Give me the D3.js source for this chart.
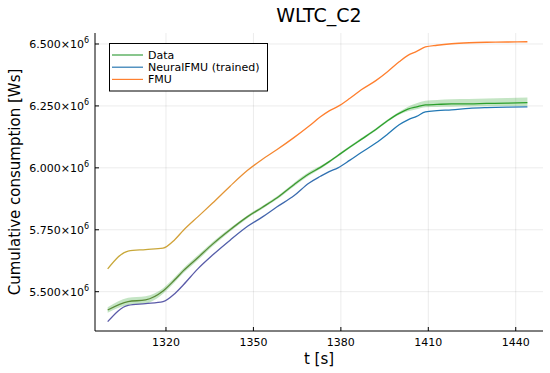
<!DOCTYPE html>
<html><head><meta charset="utf-8">
<script src="https://cdn.jsdelivr.net/npm/d3@7/dist/d3.min.js"></script>
<style>body{margin:0;background:#fff}svg{display:block;font-family:"DejaVu Sans",sans-serif}</style>
</head><body><svg id="c" width="550" height="373"></svg>
<script>
const title = "WLTC_C2";
const xLabel = "t [s]";
const yLabel = "Cumulative consumption [Ws]";
const seriesNames = ["Data", "NeuralFMU (trained)", "FMU"];
const xTicks = [1320, 1350, 1380, 1410, 1440];
const yTicks = [5.5e6, 5.75e6, 6.0e6, 6.25e6, 6.5e6];
const yTickLabels = ["5.500", "5.750", "6.000", "6.250", "6.500"];
const time = [1300,1307,1313,1319,1323,1326,1331,1336,1342,1348,1353,1358,1364,1369,1373,1376,1379,1383,1387,1392,1396,1400,1403,1406,1409,1413,1418,1424,1430,1437,1444];
// values in 1e6 Ws
const fmu = [5.592,5.664,5.670,5.676,5.710,5.748,5.803,5.858,5.926,5.990,6.034,6.073,6.123,6.168,6.206,6.230,6.248,6.280,6.315,6.352,6.388,6.428,6.454,6.470,6.488,6.495,6.501,6.505,6.507,6.508,6.509];
const data = [5.426,5.460,5.467,5.503,5.548,5.585,5.638,5.692,5.750,5.803,5.840,5.878,5.933,5.975,6.002,6.025,6.050,6.083,6.115,6.155,6.190,6.220,6.237,6.246,6.254,6.256,6.258,6.258,6.260,6.261,6.263];
const neural = [5.379,5.445,5.452,5.460,5.492,5.528,5.593,5.648,5.708,5.764,5.801,5.842,5.888,5.938,5.966,5.985,6.000,6.030,6.062,6.100,6.136,6.174,6.194,6.208,6.226,6.231,6.234,6.240,6.243,6.245,6.246];
const dataHigh = [5.437,5.476,5.482,5.514,5.558,5.595,5.648,5.701,5.757,5.809,5.846,5.884,5.940,5.983,6.008,6.030,6.055,6.088,6.120,6.160,6.195,6.226,6.247,6.261,6.271,6.274,6.277,6.278,6.280,6.282,6.284];
const dataLow  = [5.415,5.446,5.452,5.492,5.538,5.575,5.628,5.683,5.743,5.797,5.834,5.872,5.926,5.968,5.996,6.020,6.045,6.078,6.110,6.150,6.185,6.214,6.228,6.237,6.245,6.246,6.247,6.248,6.249,6.250,6.250];

const svg = d3.select("#c");
const L = 95, R = 543, T = 33, B = 331;
const x = d3.scaleLinear().domain([1295.65, 1449.35]).range([L, R]);
const y = d3.scaleLinear().domain([5.3413e6, 6.5444e6]).range([B, T]);

// grid
svg.append("g").selectAll("line").data(xTicks).join("line")
  .attr("x1", d => x(d)).attr("x2", d => x(d)).attr("y1", T).attr("y2", B)
  .attr("stroke", "#000").attr("stroke-opacity", 0.1).attr("stroke-width", 0.8);
svg.append("g").selectAll("line").data(yTicks).join("line")
  .attr("x1", L).attr("x2", R).attr("y1", d => y(d)).attr("y2", d => y(d))
  .attr("stroke", "#000").attr("stroke-opacity", 0.1).attr("stroke-width", 0.8);

// gradients
const defs = svg.append("defs");
function grad(id, c0, c1, x0, x1) {
  const g = defs.append("linearGradient").attr("id", id).attr("gradientUnits", "userSpaceOnUse")
    .attr("x1", x0).attr("x2", x1).attr("y1", 0).attr("y2", 0);
  g.append("stop").attr("offset", 0).attr("stop-color", c0);
  g.append("stop").attr("offset", 1).attr("stop-color", c1);
}
grad("gF", "#c8a83a", "#ff7f2e", 150, 300);
grad("gN", "#5a5aa8", "#2278b4", 200, 370);
grad("gD", "#5a8a38", "#2ca02c", 200, 350);

const pts = time.map((t, i) => ({t, f: fmu[i] * 1e6, d: data[i] * 1e6, n: neural[i] * 1e6, hi: dataHigh[i] * 1e6, lo: dataLow[i] * 1e6}));

svg.append("path").datum(pts)
  .attr("d", d3.area().x(d => x(d.t)).y0(d => y(d.lo)).y1(d => y(d.hi)).curve(d3.curveMonotoneX))
  .attr("fill", "#2ca02c").attr("fill-opacity", 0.28);

const line = k => d3.line().x(d => x(d.t)).y(d => y(d[k])).curve(d3.curveMonotoneX);
svg.append("path").datum(pts).attr("d", line("f")).attr("fill", "none").attr("stroke", "url(#gF)").attr("stroke-width", 1.3);
svg.append("path").datum(pts).attr("d", line("n")).attr("fill", "none").attr("stroke", "url(#gN)").attr("stroke-width", 1.3);
svg.append("path").datum(pts).attr("d", line("d")).attr("fill", "none").attr("stroke", "url(#gD)").attr("stroke-width", 1.3);

// axes
const ax = svg.append("g").attr("stroke", "#000");
ax.append("line").attr("x1", L).attr("x2", R).attr("y1", B).attr("y2", B).attr("stroke-width", 1);
ax.append("line").attr("x1", L).attr("x2", L).attr("y1", T).attr("y2", B).attr("stroke-width", 1);
ax.selectAll(".xt").data(xTicks).join("line").attr("x1", d => x(d)).attr("x2", d => x(d)).attr("y1", B).attr("y2", B - 4);
ax.selectAll(".yt").data(yTicks).join("line").attr("x1", L).attr("x2", L + 4).attr("y1", d => y(d)).attr("y2", d => y(d));

svg.append("g").selectAll("text").data(xTicks).join("text")
  .attr("x", d => x(d)).attr("y", B + 15).attr("text-anchor", "middle")
  .attr("font-size", 11).attr("fill", "#000").text(d => d);

const yl = svg.append("g").selectAll("text").data(yTicks).join("text")
  .attr("x", 89).attr("y", d => y(d) + 4).attr("text-anchor", "end")
  .attr("font-size", 11).attr("fill", "#000");
yl.append("tspan").text((d, i) => yTickLabels[i] + "×10");
yl.append("tspan").attr("dy", -5).attr("font-size", 8).text("6");

svg.append("text").attr("x", (L + R) / 2).attr("y", 22).attr("text-anchor", "middle")
  .attr("font-size", 19).attr("fill", "#000").text(title);
svg.append("text").attr("x", (L + R) / 2).attr("y", 364).attr("text-anchor", "middle")
  .attr("font-size", 15).attr("fill", "#000").text(xLabel);
svg.append("text").attr("transform", `translate(20,${(T + B) / 2}) rotate(-90)`).attr("text-anchor", "middle")
  .attr("font-size", 15).attr("fill", "#000").text(yLabel);

// legend
const lg = svg.append("g");
lg.append("rect").attr("x", 109.5).attr("y", 43.5).attr("width", 158).attr("height", 47.5)
  .attr("fill", "#fff").attr("stroke", "#000").attr("stroke-width", 1);
const legCols = ["#3aa040", "#2a78b2", "#ff8030"];
seriesNames.forEach((s, i) => {
  const yy = 55 + i * 12.2;
  lg.append("line").attr("x1", 112).attr("x2", 143).attr("y1", yy).attr("y2", yy).attr("stroke", legCols[i]).attr("stroke-width", 1.2);
  lg.append("text").attr("x", 148).attr("y", yy + 4).attr("font-size", 11).attr("fill", "#000").text(s);
});
</script></body></html>
